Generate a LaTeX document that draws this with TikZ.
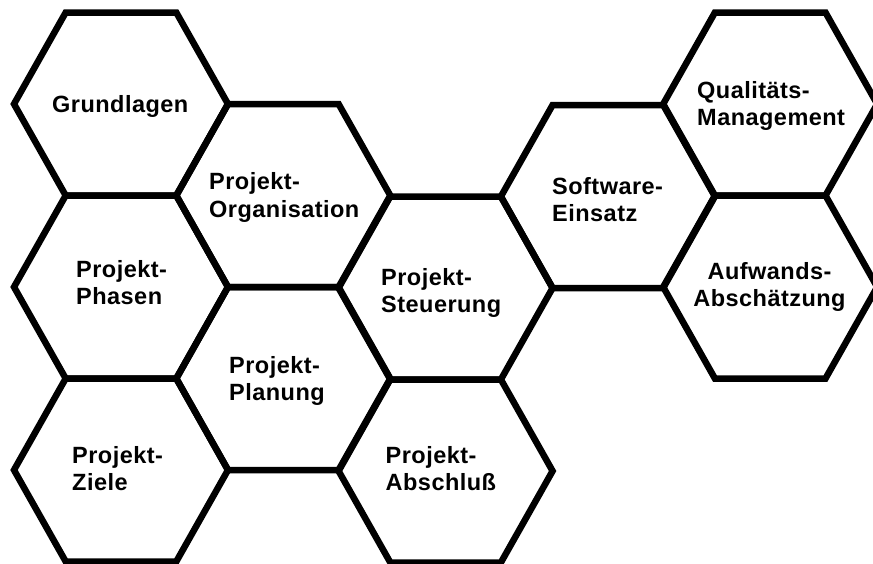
\documentclass[tikz,border=0pt]{standalone}
\usepackage{fontspec}
\newfontfamily\hexfont[LetterSpace=2]{Liberation Sans}
\tikzset{
  hexline/.style={line width=6.5pt, line join=miter, draw=black},
  lbl/.style={font=\hexfont\bfseries\fontsize{23.5}{27.5}\selectfont, inner sep=0pt, anchor=base west},
  lblc/.style={lbl, anchor=base},
  hexcell/.pic={\draw[hexline] (107,0) -- (55.3,91.5) -- (-55.3,91.5) -- (-107,0) -- (-55.3,-91.5) -- (55.3,-91.5) -- cycle;}
}
\newcommand\twol[2]{\begin{tabular}[t]{@{}l@{}}#1\\#2\end{tabular}}
\newcommand\twoc[2]{\begin{tabular}[t]{@{}c@{}}#1\\#2\end{tabular}}
\begin{document}
\begin{tikzpicture}[x=1pt,y=-1pt]
  \useasboundingbox (0,0) rectangle (873,563);
  \fill[white] (0,0) rectangle (873,563);
  \clip (0,0) rectangle (873,563);
  % hexagon centres
  \coordinate (cGrund) at (121,104);
  \coordinate (cPhasen) at (121,287);
  \coordinate (cZiele) at (121,470);
  \coordinate (cOrg) at (283.3,195.5);
  \coordinate (cPlan) at (283.3,378.5);
  \coordinate (cSteu) at (445.6,288);
  \coordinate (cAbs) at (445.6,471);
  \coordinate (cSoft) at (607.9,196.5);
  \coordinate (cQual) at (770.2,104);
  \coordinate (cAufw) at (770.2,287);
  \foreach \c in {cGrund,cPhasen,cZiele,cOrg,cPlan,cSteu,cAbs,cSoft,cQual,cAufw}
    \pic at (\c) {hexcell};
  % labels
  \node[lbl] (tGrund) at (52,112.5) {Grundlagen};
  \node[lbl] (tOrg) at (209,189.5) {\twol{Projekt-}{Organisation}};
  \node[lbl] (tPhasen) at (76,277) {\twol{Projekt-}{Phasen}};
  \node[lbl] (tPlan) at (229,373) {\twol{Projekt-}{Planung}};
  \node[lbl] (tZiele) at (72,463) {\twol{Projekt-}{Ziele}};
  \node[lbl] (tSteu) at (381,285) {\twol{Projekt-}{Steuerung}};
  \node[lbl] (tAbs) at (385.5,463) {\twol{Projekt-}{Abschluß}};
  \node[lbl] (tSoft) at (552,194) {\twol{Software-}{Einsatz}};
  \node[lbl] (tQual) at (697,98) {\twol{Qualitäts-}{Management}};
  \node[lblc] (tAufw) at (769.5,279) {\twoc{Aufwands-}{Abschätzung}};
\end{tikzpicture}
\end{document}
